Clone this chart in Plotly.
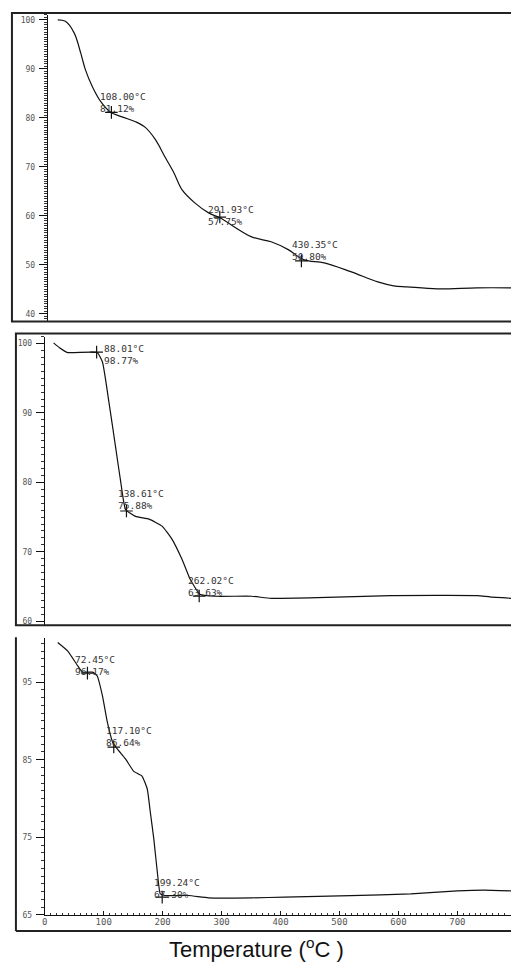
import plotly.graph_objects as go

# ---------------- data ----------------
# Panel 1 TGA curve
t1 = [17, 30, 45, 56, 64, 76, 90, 106, 126, 149, 166, 183, 199, 214, 228, 250,
      273, 292, 346, 379, 408, 435, 469, 514, 560, 587, 610, 661, 728, 786]
w1 = [100.0, 99.7, 97.3, 93.2, 89.8, 86.3, 83.3, 81.2, 80.2, 79.2, 78.0, 75.5,
      72.0, 68.8, 65.3, 62.6, 60.6, 59.6, 55.7, 54.7, 53.1, 51.0, 50.4, 48.6,
      46.5, 45.7, 45.5, 45.1, 45.3, 45.3]
# Panel 2 TGA curve
t2 = [15, 25, 39, 89, 98, 109, 120, 129, 137, 154, 177, 199, 216, 233, 247, 263,
      289, 351, 384, 463, 587, 734, 755, 791]
w2 = [100.1, 99.4, 98.7, 98.7, 97.3, 91.5, 85.2, 80.0, 76.1, 75.1, 74.7, 73.7,
      71.8, 68.9, 66.0, 63.9, 63.6, 63.6, 63.3, 63.4, 63.7, 63.7, 63.5, 63.3]
# Panel 3 TGA curve
t3 = [22, 39, 56, 64, 81, 89, 98, 106, 115, 123, 137, 151, 165, 174, 179, 185,
      191, 196, 204, 244, 278, 351, 407, 519, 621, 700, 745, 791]
w3 = [100.1, 99.0, 97.1, 96.3, 96.3, 95.8, 93.2, 89.9, 87.3, 86.4, 85.1, 83.5,
      82.9, 81.2, 78.3, 74.8, 70.5, 67.7, 67.5, 67.5, 67.2, 67.2, 67.3, 67.5,
      67.7, 68.1, 68.2, 68.1]

# Marked points (temperature, weight %) with their labels
m1_t = [108.00, 291.93, 430.35]
m1_w = [81.12, 59.75, 50.80]
m1_lab = ["108.00°C<br>81.12%", "291.93°C<br>57.75%", "430.35°C<br>50.80%"]
m2_t = [88.01, 138.61, 262.02]
m2_w = [98.77, 75.88, 63.63]
m2_lab = ["88.01°C<br>98.77%", "138.61°C<br>75.88%", "262.02°C<br>63.63%"]
m3_t = [72.45, 117.10, 199.24]
m3_w = [96.17, 86.64, 67.30]
m3_lab = ["72.45°C<br>96.17%", "117.10°C<br>86.64%", "199.24°C<br>67.30%"]

x_ticks = [0, 100, 200, 300, 400, 500, 600, 700, 800]
x_title = "Temperature (<sup>o</sup>C )"

# ---------------- layout helpers ----------------
W, H = 511, 969
S = 1.004
def px(x):
    return x / W
def py(y):
    return 1 - (y * S) / H

MONO = "DejaVu Sans Mono"
fig = go.Figure()

panels = [
    dict(t=t1, w=w1, mt=m1_t, mw=m1_w, lab=m1_lab, xa="x", ya="y", sm=1.0,
         shifts=[(-13, 10), (-14, 2), (-11, 10)]),
    dict(t=t2, w=w2, mt=m2_t, mw=m2_w, lab=m2_lab, xa="x2", ya="y2", sm=0.4,
         shifts=[(5, -2), (-10, 11), (-13, 10)]),
    dict(t=t3, w=w3, mt=m3_t, mw=m3_w, lab=m3_lab, xa="x3", ya="y3", sm=0.4,
         shifts=[(-14, 8), (-10, 11), (-10, 9)]),
]

for p in panels:
    fig.add_trace(go.Scatter(x=p["t"], y=p["w"], mode="lines",
                             line=dict(color="#111", width=1.2, shape="spline",
                                       smoothing=p["sm"]),
                             xaxis=p["xa"], yaxis=p["ya"], showlegend=False,
                             hoverinfo="skip"))
    fig.add_trace(go.Scatter(x=p["mt"], y=p["mw"], mode="markers",
                             marker=dict(symbol="cross-thin", size=9,
                                         line=dict(color="#111", width=1.2)),
                             xaxis=p["xa"], yaxis=p["ya"], showlegend=False,
                             hoverinfo="skip"))
    for tt, ww, lab, (dx, dy) in zip(p["mt"], p["mw"], p["lab"], p["shifts"]):
        fig.add_annotation(x=tt, y=ww, xref=p["xa"], yref=p["ya"], text=lab,
                           showarrow=False, xanchor="left", yanchor="middle",
                           align="left", xshift=dx, yshift=dy,
                           font=dict(family=MONO, size=9.5, color="#333"))

yax_common = dict(showline=True, linecolor="#111", linewidth=1, ticks="outside",
                  ticklen=8, tickcolor="#111", tickwidth=1, showgrid=False,
                  zeroline=False, tickfont=dict(family=MONO, size=8, color="#555"),
                  ticklabelstandoff=2,
                  minor=dict(ticks="outside", ticklen=3, tickcolor="#333",
                             tickwidth=1, showgrid=False))
xax_hidden = dict(showline=False, showticklabels=False, ticks="", showgrid=False,
                  zeroline=False)

fig.update_layout(
    width=W, height=H, margin=dict(l=0, r=0, t=0, b=0),
    paper_bgcolor="white", plot_bgcolor="white",
    xaxis=dict(domain=[px(45), 1], range=[0, 786], anchor="y", **xax_hidden),
    yaxis=dict(domain=[py(322), py(15)], range=[38.4, 101.0], anchor="x",
               tick0=40, dtick=10, **{**yax_common,
                                      "minor": {**yax_common["minor"], "dtick": 0.5}}),
    xaxis2=dict(domain=[px(42), 1], range=[0, 791], anchor="y2", **xax_hidden),
    yaxis2=dict(domain=[py(626), py(337)], range=[59.42, 101.0], anchor="x2",
                tick0=60, dtick=10, **{**yax_common,
                                       "minor": {**yax_common["minor"], "dtick": 1}}),
    xaxis3=dict(domain=[px(42), 1], range=[0, 791], anchor="y3", showline=True,
                linecolor="#111", linewidth=1, tickvals=x_ticks,
                ticks="inside", ticklen=4, tickcolor="#111", showgrid=False,
                zeroline=False, tickfont=dict(family=MONO, size=9, color="#555"),
                ticklabelstandoff=-2,
                minor=dict(ticks="inside", ticklen=2, dtick=10, tickcolor="#333",
                           showgrid=False)),
    yaxis3=dict(domain=[py(916), py(639)], range=[65, 100.66], anchor="x3",
                tick0=65, dtick=10, **{**yax_common,
                                       "minor": {**yax_common["minor"], "dtick": 1}}),
)

# panel frames
frame = dict(color="#222", width=2)
fig.add_shape(type="rect", xref="paper", yref="paper", x0=px(9), x1=1.05,
              y0=py(322), y1=py(13), line=frame)
fig.add_shape(type="rect", xref="paper", yref="paper", x0=px(13), x1=1.05,
              y0=py(626), y1=py(334), line=frame)
fig.add_shape(type="line", xref="paper", yref="paper", x0=px(13), x1=px(13),
              y0=py(932), y1=py(638), line=frame)
fig.add_shape(type="line", xref="paper", yref="paper", x0=px(13), x1=1.05,
              y0=py(932), y1=py(932), line=frame)

fig.add_annotation(x=px(255), y=1 - 953 / H, xref="paper", yref="paper",
                   text=x_title, showarrow=False, xanchor="center",
                   yanchor="middle",
                   font=dict(family="Liberation Sans, Arial", size=22,
                             color="#111"))

# remove the default 8px page margin so the figure fills the window exactly
fig.write_html("out.html",
               config={"displayModeBar": False},
               post_script="document.body.style.margin='0px';"
                           "document.documentElement.style.overflow='hidden';")
